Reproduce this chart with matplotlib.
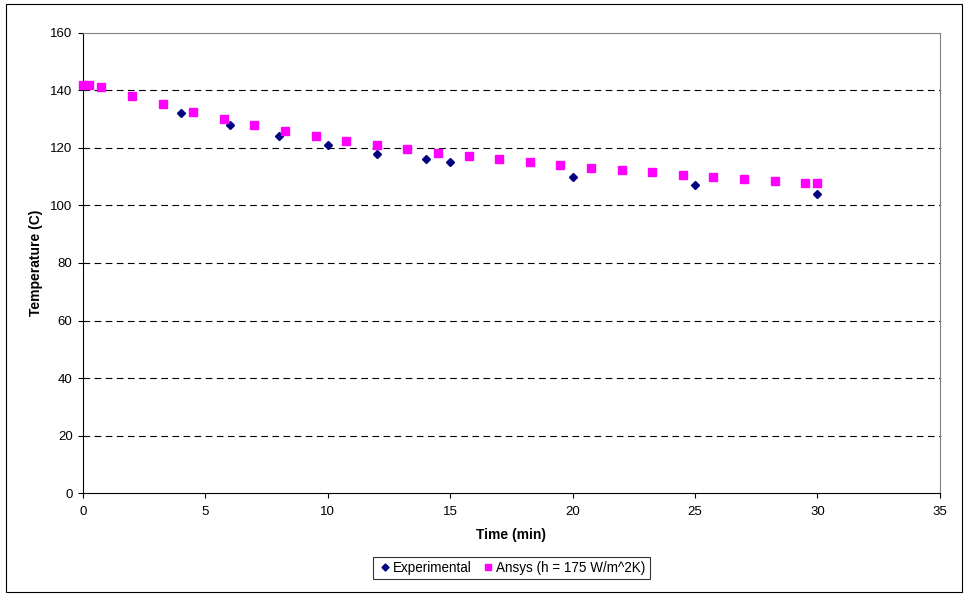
import matplotlib.pyplot as plt
from matplotlib.patches import Rectangle

plt.rcParams['font.family'] = ['Liberation Sans', 'DejaVu Sans']

# experimental measurements
exp_time = [0, 4, 6, 8, 10, 12, 14, 15, 20, 25, 30]
exp_temp = [142, 132, 128, 124, 121, 118, 116, 115, 110, 107, 104]

# ansys simulation, h = 175 W/m^2K
ansys_time = [0, 0.25, 0.75, 2, 3.25, 4.5, 5.75, 7, 8.25, 9.5, 10.75, 12, 13.25,
              14.5, 15.75, 17, 18.25, 19.5, 20.75, 22, 23.25, 24.5, 25.75, 27,
              28.25, 29.5, 30]
ansys_temp = [142, 142, 141.2, 138.1, 135.2, 132.5, 130, 127.9, 125.9, 124.1,
              122.4, 121.1, 119.7, 118.4, 117.2, 116.1, 115.0, 114.1, 113.2,
              112.3, 111.6, 110.7, 109.9, 109.2, 108.6, 107.9, 107.7]

fig = plt.figure(figsize=(9.65, 5.94), dpi=100)
ax = fig.add_axes([0.086, 0.170, 0.888, 0.7745])

ax.plot(exp_time, exp_temp, linestyle='none', marker='D', markersize=4.2,
        color='#000080', label='Experimental', zorder=3, clip_on=False)
ax.plot(ansys_time, ansys_temp, linestyle='none', marker='s', markersize=5.6,
        color='#FF00FF', label='Ansys (h = 175 W/m^2K)', zorder=4, clip_on=False)

ax.set_xlim(0, 35)
ax.set_ylim(0, 160)
ax.set_xticks(range(0, 36, 5))
ax.set_yticks(range(0, 161, 20))
for v in range(20, 160, 20):
    ax.axhline(v, color='black', linestyle=(0, (6, 4)), linewidth=0.8, zorder=1)

ax.spines['top'].set_color('#808080')
ax.spines['right'].set_color('#808080')
ax.spines['left'].set_color('black')
ax.spines['bottom'].set_color('black')
ax.tick_params(direction='out', length=3.5, width=0.8, labelsize=9.5)
ax.tick_params(axis='x', pad=6)
ax.tick_params(axis='y', pad=4)

ax.set_xlabel('Time (min)', fontsize=10, fontweight='bold', labelpad=7)
ax.set_ylabel('Temperature (C)', fontsize=10, fontweight='bold', labelpad=5)

leg = fig.legend(loc='center', bbox_to_anchor=(0.53, 0.0445), ncol=2, fontsize=9.75,
                 frameon=True, fancybox=False, edgecolor='black',
                 handletextpad=0.0, columnspacing=0.6, handlelength=1.2,
                 borderpad=0.3, markerscale=0.85)
leg.get_frame().set_linewidth(0.8)

fig.patches.append(Rectangle((0.006, 0.004), 0.991, 0.99, transform=fig.transFigure,
                             fill=False, edgecolor='black', linewidth=0.8))

fig.savefig('out.png', dpi=100)
